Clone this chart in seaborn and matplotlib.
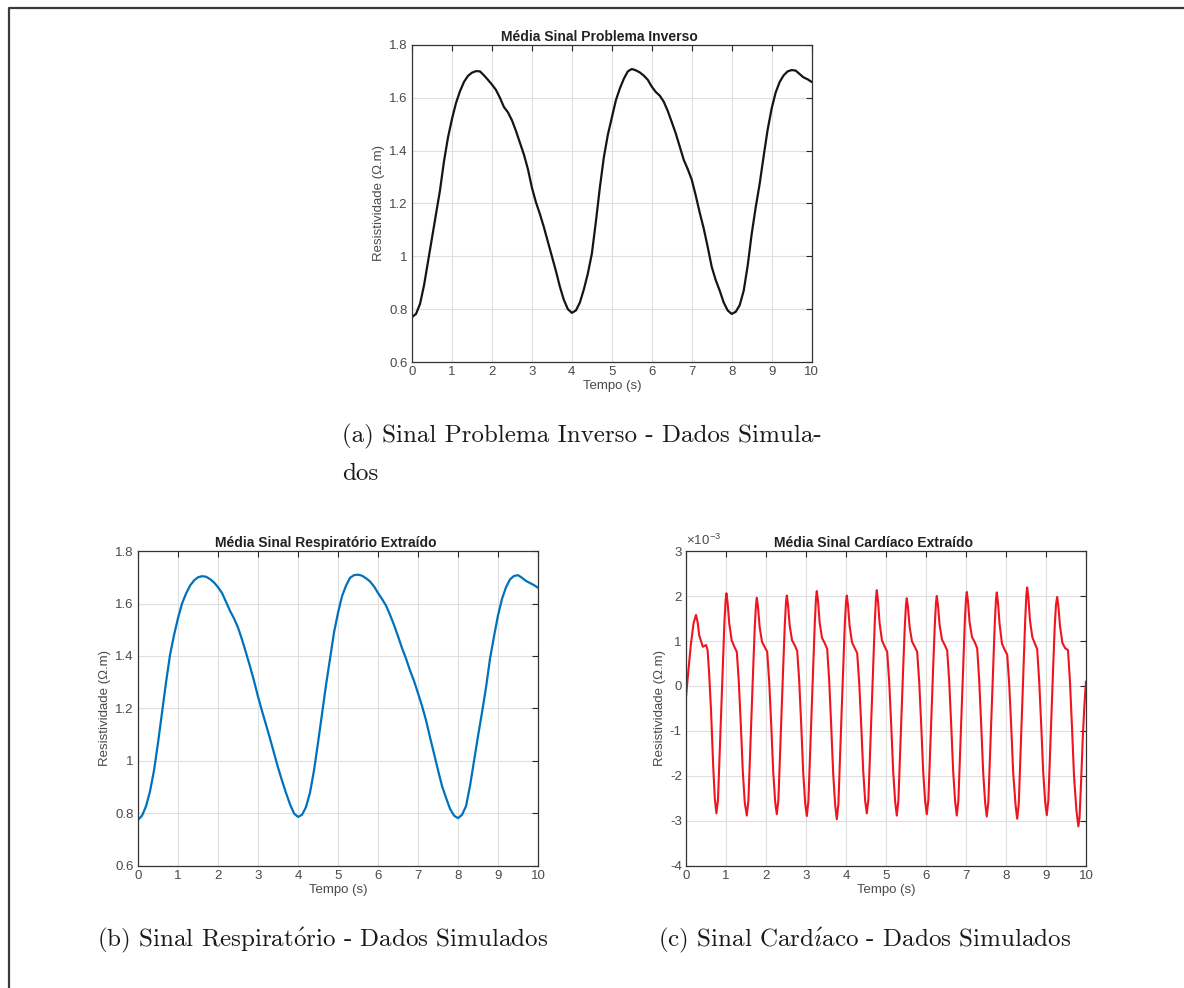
import matplotlib
matplotlib.use("Agg")
import matplotlib.pyplot as plt
import numpy as np
import pandas as pd
import seaborn as sns
from matplotlib.lines import Line2D
from matplotlib.ticker import FixedLocator, FuncFormatter

# sampling grid of the two respiration-like signals (0.1 s)
time_s = np.linspace(0, 10, 101)

inverse_signal = [
    0.770, 0.782, 0.820, 0.890, 0.980, 1.070, 1.160, 1.250, 1.360, 1.450,
    1.520, 1.580, 1.625, 1.660, 1.683, 1.695, 1.701, 1.700, 1.685, 1.668,
    1.650, 1.630, 1.600, 1.565, 1.545, 1.515, 1.475, 1.430, 1.385, 1.330,
    1.260, 1.205, 1.160, 1.110, 1.055, 1.000, 0.945, 0.885, 0.835, 0.800,
    0.786, 0.795, 0.825, 0.875, 0.935, 1.010, 1.130, 1.260, 1.375, 1.460,
    1.525, 1.590, 1.635, 1.672, 1.700, 1.709, 1.704, 1.696, 1.684, 1.668,
    1.642, 1.622, 1.608, 1.585, 1.550, 1.508, 1.465, 1.415, 1.365, 1.330,
    1.290, 1.230, 1.165, 1.105, 1.035, 0.960, 0.910, 0.870, 0.825, 0.795,
    0.782, 0.790, 0.815, 0.870, 0.965, 1.085, 1.185, 1.275, 1.380, 1.480,
    1.560, 1.620, 1.660, 1.685, 1.700, 1.705, 1.703, 1.690, 1.677, 1.670,
    1.660,
]

resp_signal = [
    0.776, 0.792, 0.828, 0.885, 0.965, 1.070, 1.185, 1.300, 1.405, 1.480,
    1.545, 1.600, 1.638, 1.668, 1.688, 1.700, 1.704, 1.702, 1.693, 1.680,
    1.662, 1.640, 1.606, 1.572, 1.543, 1.508, 1.462, 1.412, 1.360, 1.305,
    1.245, 1.190, 1.138, 1.085, 1.030, 0.975, 0.925, 0.878, 0.835, 0.800,
    0.787, 0.795, 0.825, 0.880, 0.965, 1.070, 1.180, 1.290, 1.390, 1.490,
    1.565, 1.628, 1.668, 1.698, 1.708, 1.710, 1.706, 1.696, 1.684, 1.665,
    1.640, 1.617, 1.592, 1.557, 1.518, 1.475, 1.430, 1.390, 1.345, 1.305,
    1.258, 1.210, 1.155, 1.090, 1.028, 0.965, 0.905, 0.860, 0.818, 0.792,
    0.782, 0.795, 0.828, 0.905, 1.000, 1.095, 1.185, 1.280, 1.390, 1.475,
    1.555, 1.618, 1.662, 1.692, 1.705, 1.708, 1.698, 1.686, 1.678, 1.670,
    1.660,
]

# cardiac signal, values in units of 1e-3
card_time = [
    0.00, 0.06, 0.125, 0.19, 0.25, 0.29, 0.33, 0.42, 0.50, 0.54, 0.58, 0.625, 0.68, 0.72,
    0.76, 0.80, 0.84, 0.88, 0.92, 0.96, 0.99, 1.01, 1.04, 1.08, 1.14, 1.21, 1.27, 1.32, 1.37, 1.42, 1.47,
    1.52, 1.56, 1.60, 1.64, 1.68, 1.72, 1.75, 1.77, 1.80, 1.84, 1.90, 1.97, 2.03, 2.08, 2.13, 2.18, 2.23,
    2.27, 2.31, 2.35, 2.39, 2.43, 2.47, 2.50, 2.52, 2.55, 2.59, 2.65, 2.72, 2.78, 2.83, 2.88, 2.93, 2.98,
    3.02, 3.06, 3.10, 3.14, 3.18, 3.22, 3.25, 3.27, 3.30, 3.34, 3.40, 3.47, 3.53, 3.58, 3.63, 3.68, 3.73,
    3.77, 3.81, 3.85, 3.89, 3.93, 3.97, 4.00, 4.02, 4.05, 4.09, 4.15, 4.22, 4.28, 4.33, 4.38, 4.43, 4.48,
    4.52, 4.56, 4.60, 4.64, 4.68, 4.72, 4.75, 4.77, 4.80, 4.84, 4.90, 4.97, 5.03, 5.08, 5.13, 5.18, 5.23,
    5.27, 5.31, 5.35, 5.39, 5.43, 5.47, 5.50, 5.52, 5.55, 5.59, 5.65, 5.72, 5.78, 5.83, 5.88, 5.93, 5.98,
    6.02, 6.06, 6.10, 6.14, 6.18, 6.22, 6.25, 6.27, 6.30, 6.34, 6.40, 6.47, 6.53, 6.58, 6.63, 6.68, 6.73,
    6.77, 6.81, 6.85, 6.89, 6.93, 6.97, 7.00, 7.02, 7.05, 7.09, 7.15, 7.22, 7.28, 7.33, 7.38, 7.43, 7.48,
    7.52, 7.56, 7.60, 7.64, 7.68, 7.72, 7.75, 7.77, 7.80, 7.84, 7.90, 7.97, 8.03, 8.08, 8.13, 8.18, 8.24,
    8.28, 8.32, 8.36, 8.40, 8.44, 8.48, 8.51, 8.53, 8.56, 8.60, 8.66, 8.72, 8.78, 8.83, 8.88, 8.93, 8.98,
    9.02, 9.06, 9.10, 9.14, 9.18, 9.22, 9.25, 9.28, 9.31, 9.35, 9.41, 9.48, 9.55, 9.60, 9.65, 9.70, 9.76,
    9.81, 9.84, 9.88, 9.92, 9.96, 10.00,
]
card_signal = [
    -0.24, 0.35, 0.95, 1.40, 1.58, 1.42, 1.13, 0.87, 0.91, 0.80, 0.25, -0.53, -1.79, -2.50,
    -2.83, -2.52, -1.52, -0.58, 0.42, 1.40, 1.90, 2.06, 1.86, 1.40, 1.02, 0.87, 0.76, 0.10, -0.85, -1.90, -2.60,
    -2.88, -2.55, -1.55, -0.60, 0.40, 1.33, 1.80, 1.96, 1.76, 1.32, 0.98, 0.86, 0.76, 0.10, -0.85, -1.90, -2.58,
    -2.85, -2.53, -1.53, -0.58, 0.42, 1.36, 1.86, 2.01, 1.81, 1.36, 1.02, 0.90, 0.78, 0.12, -0.85, -1.92, -2.60,
    -2.89, -2.56, -1.55, -0.60, 0.42, 1.40, 1.95, 2.11, 1.90, 1.42, 1.07, 0.95, 0.82, 0.12, -0.88, -1.95, -2.65,
    -2.96, -2.62, -1.58, -0.60, 0.40, 1.36, 1.86, 2.01, 1.80, 1.34, 0.97, 0.84, 0.73, 0.08, -0.85, -1.88, -2.56,
    -2.83, -2.52, -1.52, -0.58, 0.42, 1.42, 1.96, 2.13, 1.90, 1.40, 1.01, 0.87, 0.76, 0.10, -0.86, -1.90, -2.58,
    -2.88, -2.55, -1.55, -0.60, 0.40, 1.32, 1.80, 1.95, 1.75, 1.32, 0.99, 0.87, 0.76, 0.10, -0.85, -1.90, -2.57,
    -2.85, -2.53, -1.53, -0.58, 0.42, 1.35, 1.85, 2.00, 1.80, 1.36, 1.03, 0.91, 0.79, 0.12, -0.85, -1.90, -2.58,
    -2.88, -2.55, -1.55, -0.60, 0.42, 1.40, 1.93, 2.09, 1.88, 1.42, 1.09, 0.97, 0.84, 0.14, -0.85, -1.92, -2.60,
    -2.90, -2.57, -1.56, -0.60, 0.41, 1.39, 1.92, 2.08, 1.86, 1.38, 0.94, 0.80, 0.70, 0.06, -0.88, -1.92, -2.65,
    -2.95, -2.61, -1.58, -0.60, 0.42, 1.45, 2.02, 2.19, 1.96, 1.46, 1.08, 0.95, 0.82, 0.12, -0.85, -1.90, -2.58,
    -2.87, -2.54, -1.54, -0.58, 0.42, 1.35, 1.80, 1.98, 1.78, 1.34, 0.96, 0.84, 0.80, 0.10, -0.90, -1.98, -2.75,
    -3.12, -2.92, -2.10, -1.15, -0.45, 0.10,
]

x_ticks = list(range(0, 11))
resp_yticks = [0.6, 0.8, 1.0, 1.2, 1.4, 1.6, 1.8]
card_yticks = [-4, -3, -2, -1, 0, 1, 2, 3]

sns.set_style("white")
plt.rcParams["font.family"] = ["Liberation Sans", "DejaVu Sans"]
plt.rcParams["axes.unicode_minus"] = False
plt.rcParams["mathtext.fontset"] = "cm"

TXT = "#262626"
LBL = "#4a4a4a"


def style_axes(ax, title, yticks):
    ax.set_xlim(0, 10)
    ax.set_ylim(yticks[0], yticks[-1])
    ax.xaxis.set_major_locator(FixedLocator(x_ticks))
    ax.yaxis.set_major_locator(FixedLocator(yticks))
    ax.yaxis.set_major_formatter(FuncFormatter(lambda v, p: f"{v:g}"))
    ax.grid(True, color="#dfdfdf", lw=0.8)
    ax.set_axisbelow(True)
    ax.tick_params(direction="in", top=True, right=True, length=4,
                   width=0.8, color=TXT, labelcolor=LBL,
                   labelsize=9.5, pad=3)
    for sp in ax.spines.values():
        sp.set_color("#333333")
        sp.set_linewidth(0.9)
        sp.set_visible(True)
    ax.set_title(title, fontsize=10, fontweight="bold", color="#222222",
                 pad=3, x=0.47)
    ax.set_xlabel("Tempo (s)", fontsize=9.5, color=LBL, labelpad=1)
    ax.set_ylabel("Resistividade (\u03a9.m)", fontsize=9.5, color=LBL, labelpad=3)


fig = plt.figure(figsize=(11.84, 9.88), dpi=100)

ax_a = fig.add_axes([0.348, 0.6336, 0.3375, 0.3209])
ax_b = fig.add_axes([0.1166, 0.1235, 0.3378, 0.3188])
ax_c = fig.add_axes([0.5794, 0.1235, 0.3378, 0.3188])

df_a = pd.DataFrame({"t": time_s, "v": inverse_signal})
df_b = pd.DataFrame({"t": time_s, "v": resp_signal})
df_c = pd.DataFrame({"t": card_time, "v": np.array(card_signal) * 1e-3})

sns.lineplot(data=df_a, x="t", y="v", ax=ax_a, color="#151515", lw=1.6, estimator=None)
sns.lineplot(data=df_b, x="t", y="v", ax=ax_b, color="#0072BD", lw=1.6, estimator=None)
sns.lineplot(data=df_c, x="t", y="v", ax=ax_c, color="#F0141E", lw=1.5, estimator=None)

style_axes(ax_a, "Média Sinal Problema Inverso", resp_yticks)
style_axes(ax_b, "Média Sinal Respiratório Extraído", resp_yticks)
style_axes(ax_c, "Média Sinal Cardíaco Extraído", [v * 1e-3 for v in card_yticks])
ax_c.yaxis.set_major_formatter(FuncFormatter(lambda v, p: f"{v * 1e3:.0f}"))
ax_c.text(0.0, 1.008, "\u00d710$^{\\mathregular{-3}}$", transform=ax_c.transAxes,
          fontsize=9.5, color=LBL, ha="left", va="bottom")

# captions (LaTeX subfigure style, Computer Modern)
cap = dict(family=["cmr10", "DejaVu Serif"], fontsize=18, color="#1a1a1a")
o_ac = r"$\mathrm{\acute{o}}$"
i_ac = r"$\mathrm{\acute{\imath}}$"
fig.text(0.2889, 0.5587, "(a) Sinal Problema Inverso - Dados Simula-", ha="left", va="center", **cap)
fig.text(0.2889, 0.5202, "dos", ha="left", va="center", **cap)
fig.text(0.2728, 0.0486, f"(b) Sinal Respirat{o_ac}rio - Dados Simulados", ha="center", va="center", **cap)
fig.text(0.7300, 0.0486, f"(c) Sinal Card{i_ac}aco - Dados Simulados", ha="center", va="center", **cap)

# page frame (left and top edges)
fx, fy = 8.5 / 1184, 1 - 8.5 / 988
fig.add_artist(Line2D([fx, fx, 1.0], [0.0, fy, fy], transform=fig.transFigure,
                      color="#3a3a3a", lw=1.6))

fig.savefig("out.png", dpi=100)
